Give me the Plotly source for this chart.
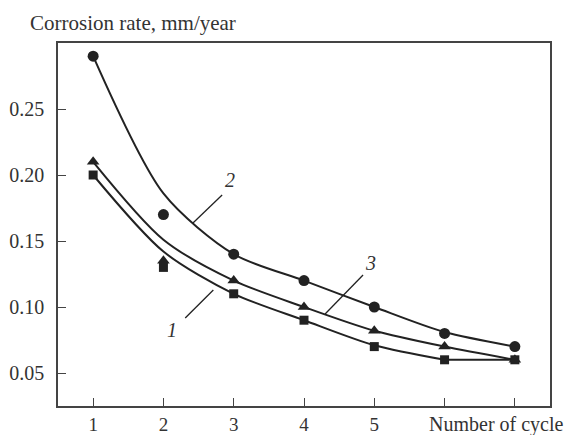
import plotly.graph_objects as go

cycles = [1, 2, 3, 4, 5, 6, 7]
# measured points
rate_1 = [0.20, 0.13, 0.11, 0.09, 0.07, 0.06, 0.06]      # squares
rate_2 = [0.29, 0.17, 0.14, 0.12, 0.10, 0.08, 0.07]      # circles
rate_3 = [0.21, 0.135, 0.12, 0.10, 0.082, 0.07, 0.06]    # triangles
# fitted curves
fit_1 = [0.20, 0.142, 0.11, 0.09, 0.071, 0.06, 0.06]
fit_2 = [0.29, 0.186, 0.14, 0.12, 0.10, 0.081, 0.07]
fit_3 = [0.21, 0.151, 0.12, 0.10, 0.082, 0.07, 0.06]

x_ticks = [1, 2, 3, 4, 5, 6, 7]
x_tick_labels = ["1", "2", "3", "4", "5", "", ""]
y_ticks = [0.05, 0.10, 0.15, 0.20, 0.25]
y_tick_labels = ["0.05", "0.10", "0.15", "0.20", "0.25"]

curve_labels = ["1", "2", "3"]
label_pos = [(2.12, 0.0826), (2.95, 0.196), (4.94, 0.1333)]
leaders = [((2.31, 0.0917), (2.71, 0.1129)),
           ((2.42, 0.1636), (2.835, 0.1848)),
           ((4.30, 0.0947), (4.84, 0.1242))]

INK = "#222222"
TXT = "#333333"
FONT = "Liberation Serif"

fig = go.Figure()
line_spline = dict(color=INK, width=2, shape="spline", smoothing=0.8)
# curve 1: smooth part, then flat straight end segment (as in the original)
fig.add_trace(go.Scatter(x=cycles[:6], y=fit_1[:6], mode="lines", line=line_spline,
                         hoverinfo="skip", showlegend=False))
fig.add_trace(go.Scatter(x=cycles[5:], y=fit_1[5:], mode="lines", line=dict(color=INK, width=2),
                         hoverinfo="skip", showlegend=False))
for fit in (fit_2, fit_3):
    fig.add_trace(go.Scatter(x=cycles, y=fit, mode="lines", line=line_spline,
                             hoverinfo="skip", showlegend=False))
for vals, sym, size in ((rate_1, "square", 9), (rate_2, "circle", 11), (rate_3, "triangle-up", 11)):
    fig.add_trace(go.Scatter(x=cycles, y=vals, mode="markers",
                             marker=dict(symbol=sym, size=size, color=INK, line=dict(width=0)),
                             showlegend=False))

shapes = []
for (a, b) in leaders:
    shapes.append(dict(type="line", xref="x", yref="y", x0=a[0], y0=a[1], x1=b[0], y1=b[1],
                       line=dict(color=INK, width=1.3)))

annotations = []
for lab, (lx, ly) in zip(curve_labels, label_pos):
    annotations.append(dict(x=lx, y=ly, xref="x", yref="y", text="<i>%s</i>" % lab,
                            showarrow=False, font=dict(family=FONT, size=20, color=TXT)))
annotations.append(dict(x=-0.061, y=1.0, xref="paper", yref="paper", xanchor="left", yanchor="bottom",
                        yshift=6, text="Corrosion rate, mm/year", showarrow=False,
                        font=dict(family=FONT, size=21, color=TXT)))
annotations.append(dict(x=1.033, y=0, xref="paper", yref="paper", xanchor="right", yanchor="top",
                        yshift=-5, text="Number of cycle", showarrow=False,
                        font=dict(family=FONT, size=20, color=TXT)))

axis_common = dict(showline=True, linecolor="#444444", linewidth=1.5, mirror=True,
                   ticks="inside", ticklen=8, tickwidth=1.3, tickcolor="#444444",
                   showgrid=False, zeroline=False, automargin=False)

fig.update_layout(
    width=566, height=427,
    margin=dict(l=50, r=24, t=35, b=29, autoexpand=False),
    plot_bgcolor="white", paper_bgcolor="white",
    xaxis=dict(range=[0.5, 7.5], tickmode="array", tickvals=x_ticks, ticktext=x_tick_labels,
               ticklabelstandoff=0, tickfont=dict(family=FONT, size=19, color=TXT), **axis_common),
    yaxis=dict(range=[0.025, 0.30], tickmode="array", tickvals=y_ticks, ticktext=y_tick_labels,
               ticklabelstandoff=8, tickfont=dict(family=FONT, size=20, color=TXT), **axis_common),
    shapes=shapes, annotations=annotations,
)

fig.write_html("out.html")
